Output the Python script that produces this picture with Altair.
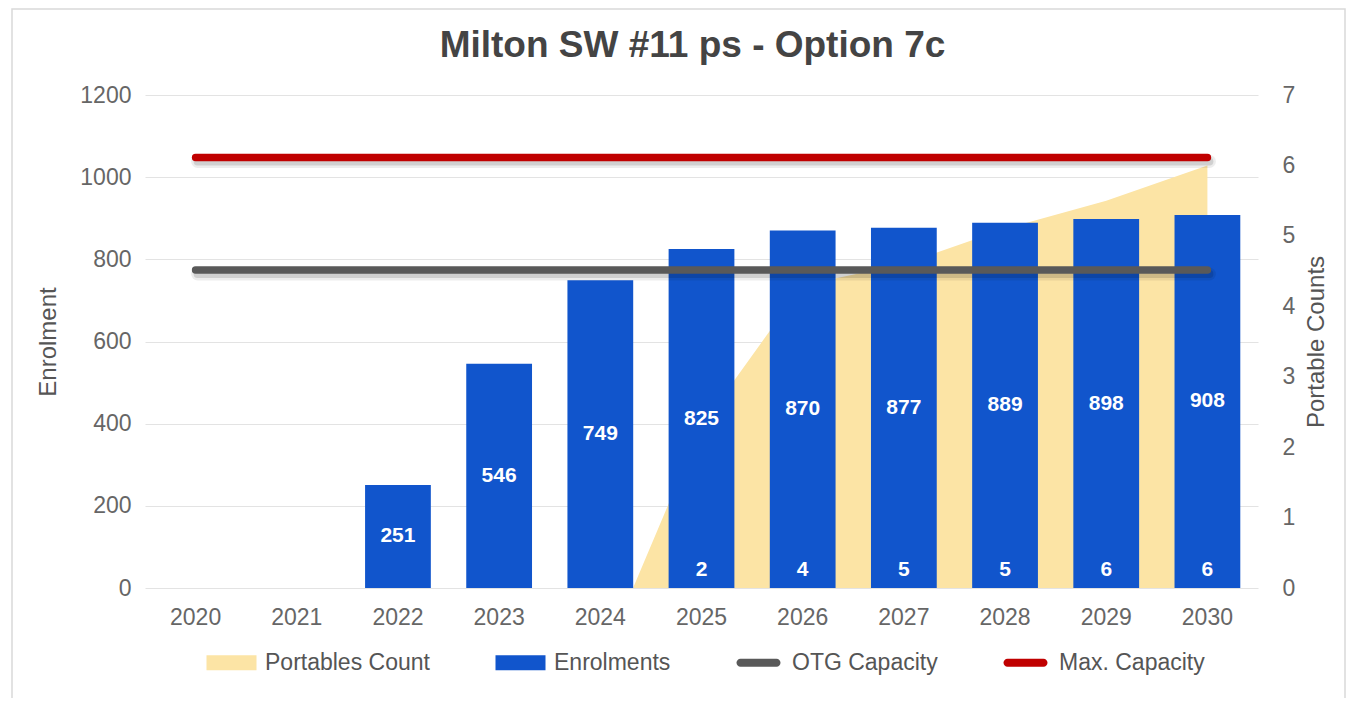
import altair as alt
import pandas as pd

# ---------------- data ----------------
years = ["2020", "2021", "2022", "2023", "2024", "2025",
         "2026", "2027", "2028", "2029", "2030"]
enrolments = [0, 0, 251, 546, 749, 825, 870, 877, 889, 898, 908]

portables_years = ["2024", "2025", "2026", "2027", "2028", "2029", "2030"]
portables_area = [-1.1, 2.3, 4.3, 4.6, 5.1, 5.5, 6.0]

portables_label_years = ["2025", "2026", "2027", "2028", "2029", "2030"]
portables_labels = [2, 4, 5, 5, 6, 6]

otg_capacity = 774
max_capacity = 1048

series_names = ["Portables Count", "Enrolments", "OTG Capacity", "Max. Capacity"]
series_colors = ["#fce4a5", "#1155cc", "#595959", "#c00000"]

left_ticks = [0, 200, 400, 600, 800, 1000, 1200]
right_ticks = [0, 1, 2, 3, 4, 5, 6, 7]

FONT = "Liberation Sans"
W, H = 1113, 493

# ---------------- tables ----------------
enrol_df = pd.DataFrame({"year": years, "enrol": enrolments})
enrol_lbl_df = enrol_df[enrol_df["enrol"] > 0].copy()
area_df = pd.DataFrame({"year": portables_years, "count": portables_area})
plbl_df = pd.DataFrame({"year": portables_label_years, "label": portables_labels})
otg_df = pd.DataFrame({"year": years, "cap": [otg_capacity] * len(years)})
max_df = pd.DataFrame({"year": years, "cap": [max_capacity] * len(years)})
legend_df = pd.DataFrame({"series": series_names})

rect_path = "M-2.5,-0.75H2.5V0.75H-2.5Z"
line_path = "M-1.8,-0.4H1.8A0.4,0.4 0 0 1 1.8,0.4H-1.8A0.4,0.4 0 0 1 -1.8,-0.4Z"
legend_shapes = [rect_path, rect_path, line_path, line_path]

x_enc = alt.X(
    "year:N",
    scale=alt.Scale(domain=years, paddingInner=0.35, paddingOuter=0.175),
    axis=alt.Axis(title=None, labelAngle=0, labelPadding=18, domain=False,
                  ticks=False, labelFontSize=23, labelColor="#666",
                  labelFont=FONT),
)

left_scale = alt.Scale(domain=[0, 1200], nice=False)

# ---------------- right-axis layer (area) ----------------
area = alt.Chart(area_df).mark_area(color="#fce4a5", opacity=1, clip=True).encode(
    x=x_enc,
    y=alt.Y(
        "count:Q",
        scale=alt.Scale(domain=[0, 7], nice=False),
        axis=alt.Axis(orient="right", values=right_ticks, grid=False,
                      domain=False, ticks=False, labelPadding=24,
                      labelFontSize=23, labelColor="#666", labelFont=FONT,
                      format="d",
                      title="Portable Counts", titleFontSize=24,
                      titleFont=FONT, titleColor="#555",
                      titleFontWeight="normal", titleAngle=270,
                      titleX=58, titleY=H / 2, titleBaseline="middle"),
    ),
)

# ---------------- left-axis layers ----------------
bars = alt.Chart(enrol_df).mark_bar(color="#1155cc").encode(
    x=x_enc,
    y=alt.Y(
        "enrol:Q",
        scale=left_scale,
        axis=alt.Axis(orient="left", values=left_ticks, grid=True,
                      gridColor="#e3e3e3", gridWidth=1.2, domain=False,
                      ticks=False, labelPadding=14, labelFontSize=23,
                      labelColor="#666", labelFont=FONT, format="d",
                      title="Enrolment", titleFontSize=24, titleFont=FONT,
                      titleColor="#555", titleFontWeight="normal",
                      titleX=-97, titleY=H / 2, titleBaseline="middle"),
    ),
)

bar_labels = alt.Chart(enrol_lbl_df).transform_calculate(
    mid="datum.enrol / 2"
).mark_text(color="white", fontWeight="bold", fontSize=21, font=FONT,
            baseline="middle").encode(
    x=x_enc,
    y=alt.Y("mid:Q", scale=left_scale),
    text=alt.Text("enrol:Q"),
)

port_labels = alt.Chart(plbl_df).mark_text(
    color="white", fontWeight="bold", fontSize=21, font=FONT,
    baseline="middle", dy=-18
).encode(
    x=x_enc,
    y=alt.datum(0, scale=left_scale),
    text=alt.Text("label:Q"),
)


def cap_line(df, color):
    shadow_wide = alt.Chart(df).mark_line(
        color="#000000", opacity=0.07, strokeWidth=13, strokeCap="round",
        yOffset=4, xOffset=2
    ).encode(x=x_enc, y=alt.Y("cap:Q", scale=left_scale))
    shadow = alt.Chart(df).mark_line(
        color="#000000", opacity=0.12, strokeWidth=8, strokeCap="round",
        yOffset=4, xOffset=2
    ).encode(x=x_enc, y=alt.Y("cap:Q", scale=left_scale))
    line = alt.Chart(df).mark_line(
        color=color, strokeWidth=7.5, strokeCap="round"
    ).encode(x=x_enc, y=alt.Y("cap:Q", scale=left_scale))
    return [shadow_wide, shadow, line]


# legend-only layer: points sit below the plot and are clipped away
legend_layer = alt.Chart(legend_df).mark_point(filled=True, opacity=1, clip=True).encode(
    y=alt.datum(-600, scale=left_scale),
    color=alt.Color(
        "series:N",
        scale=alt.Scale(domain=series_names, range=series_colors),
        legend=alt.Legend(
            orient="none", legendX=75, legendY=556, direction="horizontal",
            columns=4, title=None, labelFontSize=23, labelFont=FONT,
            labelColor="#555", labelLimit=400, symbolSize=400, labelOffset=22,
            columnPadding=65, symbolStrokeWidth=0, symbolOpacity=1,
        ),
    ),
    shape=alt.Shape(
        "series:N",
        scale=alt.Scale(domain=series_names, range=legend_shapes),
    ),
)

# light frame around the whole chart
frame = alt.Chart(pd.DataFrame({"k": [0]})).mark_rect(
    fill=None, stroke="#d9d9d9", strokeWidth=1.5
).encode(
    x=alt.value(-133), x2=alt.value(1200),
    y=alt.value(-86), y2=alt.value(700),
)

left = alt.layer(
    bars,
    bar_labels,
    port_labels,
    *cap_line(otg_df, "#595959"),
    *cap_line(max_df, "#c00000"),
    legend_layer,
    frame,
)

chart = (
    alt.layer(area, left)
    .resolve_scale(y="independent")
    .properties(
        width=W,
        height=H,
        title=alt.TitleParams(
            "Milton SW #11 ps - Option 7c", fontSize=37, font=FONT,
            fontWeight="bold", color="#444", anchor="middle", frame="group",
            dx=-9, offset=-86, baseline="alphabetic",
        ),
        autosize=alt.AutoSizeParams(type="none"),
        padding={"left": 137, "top": 87, "right": 88, "bottom": 110},
        background="white",
    )
    .configure_view(stroke=None)
)

chart.save("out.html", embed_options={"renderer": "svg", "actions": False})
